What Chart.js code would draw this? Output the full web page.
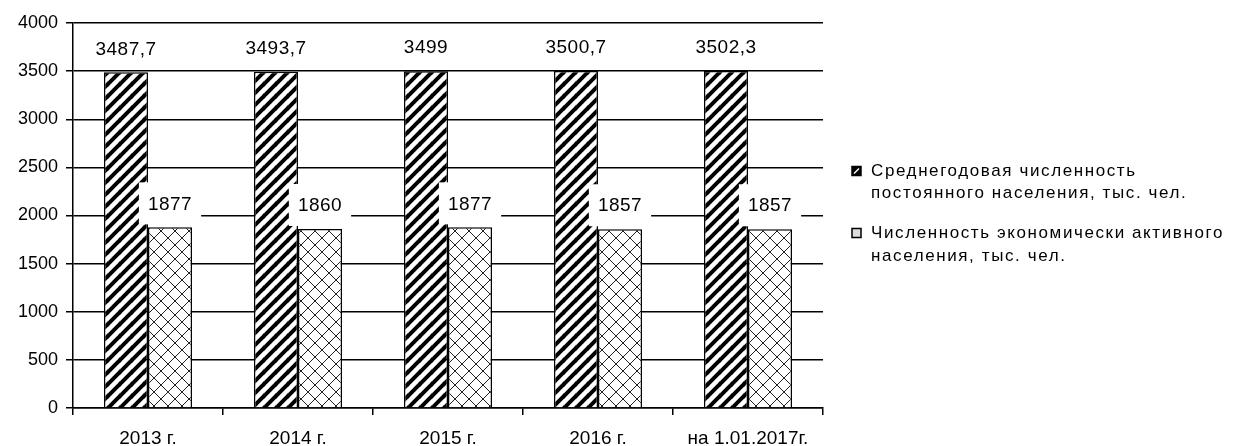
<!DOCTYPE html>
<html>
<head>
<meta charset="utf-8">
<script src="https://cdn.jsdelivr.net/npm/chart.js@4/dist/chart.umd.min.js"></script>
<style>
  body { margin: 0; background: #fff; }
  canvas { display: block; }
</style>
</head>
<body>
<canvas id="popChart" width="1243" height="446"></canvas>
<script>
const years = ["2013 г.", "2014 г.", "2015 г.", "2016 г.", "на 1.01.2017г."];
const avgPopulation = [3487.7, 3493.7, 3499, 3500.7, 3502.3];
const activePopulation = [1877, 1860, 1877, 1857, 1857];
const yTicks = [0, 500, 1000, 1500, 2000, 2500, 3000, 3500, 4000];
const legendLines = [
  ["Среднегодовая численность", "постоянного населения, тыс. чел."],
  ["Численность экономически активного", "населения, тыс. чел."]
];

const FONT = "'Liberation Sans', Arial, sans-serif";

function makeHatch() {
  const c = document.createElement("canvas");
  c.width = 12; c.height = 12;
  const g = c.getContext("2d");
  g.fillStyle = "#fff";
  g.fillRect(0, 0, 12, 12);
  g.strokeStyle = "#000";
  g.lineWidth = 4;
  [-12, 0, 12].forEach(function (o) {
    g.beginPath();
    g.moveTo(o, 12);
    g.lineTo(o + 12, 0);
    g.stroke();
  });
  g.beginPath(); g.moveTo(-6, 6); g.lineTo(6, -6); g.stroke();
  g.beginPath(); g.moveTo(6, 18); g.lineTo(18, 6); g.stroke();
  return g.createPattern(c, "repeat");
}

function makeCross() {
  const c = document.createElement("canvas");
  c.width = 14; c.height = 14;
  const g = c.getContext("2d");
  g.fillStyle = "#fff";
  g.fillRect(0, 0, 14, 14);
  g.strokeStyle = "#222";
  g.lineWidth = 1;
  g.beginPath(); g.moveTo(0, 0); g.lineTo(14, 14); g.stroke();
  g.beginPath(); g.moveTo(0, 14); g.lineTo(14, 0); g.stroke();
  return g.createPattern(c, "repeat");
}

const fmt = function (v) { return String(v).replace(".", ","); };

// value labels sit in white boxes just above each bar
const barLabels = {
  id: "barLabels",
  afterDatasetsDraw(chart) {
    const ctx = chart.ctx;
    ctx.save();
    ctx.font = "19px " + FONT;
    ctx.letterSpacing = "0.5px";
    ctx.textAlign = "center";
    ctx.textBaseline = "middle";
    chart.data.datasets.forEach(function (ds, i) {
      chart.getDatasetMeta(i).data.forEach(function (bar, j) {
        const txt = fmt(ds.data[j]);
        const w = ctx.measureText(txt).width + 18;
        const h = 42;
        const bottom = bar.y - 3;
        ctx.fillStyle = "#fff";
        ctx.fillRect(bar.x - w / 2, bottom - h, w, h);
        ctx.fillStyle = "#000";
        ctx.fillText(txt, bar.x, bottom - h / 2 + 1);
      });
    });
    ctx.restore();
  }
};

const sideLegend = {
  id: "sideLegend",
  afterDraw(chart) {
    const ctx = chart.ctx;
    ctx.save();
    ctx.font = "17px " + FONT;
    ctx.letterSpacing = "1.6px";
    ctx.textBaseline = "middle";
    const rows = [[171, 193], [233, 256]];
    rows.forEach(function (r, i) {
      const mx = 852, my = r[0] - 4.5;
      if (i === 0) {
        ctx.fillStyle = "#000";
        ctx.fillRect(mx, my, 9, 9);
        ctx.strokeStyle = "#fff";
        ctx.lineWidth = 1.5;
        ctx.beginPath(); ctx.moveTo(mx + 2, my + 7); ctx.lineTo(mx + 7, my + 2); ctx.stroke();
      } else {
        ctx.fillStyle = "#ddd";
        ctx.fillRect(mx, my, 9, 9);
      }
      ctx.strokeStyle = "#000";
      ctx.lineWidth = 1.5;
      ctx.strokeRect(mx, my, 9, 9);
      ctx.fillStyle = "#000";
      ctx.fillText(legendLines[i][0], 871, r[0]);
      ctx.fillText(legendLines[i][1], 871, r[1]);
    });
    ctx.restore();
  }
};

const ctx = document.getElementById("popChart").getContext("2d");
new Chart(ctx, {
  type: "bar",
  data: {
    labels: years,
    datasets: [{
      label: legendLines[0].join(" "),
      data: avgPopulation,
      backgroundColor: makeHatch(),
      borderColor: "#000",
      borderWidth: 1.5,
      categoryPercentage: 0.587,
      barPercentage: 1
    }, {
      label: legendLines[1].join(" "),
      data: activePopulation,
      backgroundColor: makeCross(),
      borderColor: "#000",
      borderWidth: 1.5,
      categoryPercentage: 0.587,
      barPercentage: 1
    }]
  },
  options: {
    responsive: false,
    animation: false,
    layout: { padding: { top: 23, right: 420, bottom: 0, left: 0 } },
    plugins: {
      legend: { display: false },
      tooltip: { enabled: false }
    },
    scales: {
      x: {
        offset: true,
        grid: {
          offset: true,
          drawOnChartArea: false,
          drawTicks: true,
          tickLength: 7,
          color: "#000",
          lineWidth: 1.5
        },
        border: { color: "#000", width: 1.5 },
        ticks: {
          color: "#000",
          font: { family: FONT, size: 19 },
          padding: 12,
          maxRotation: 0
        },
        afterFit(scale) { scale.height = 38; }
      },
      y: {
        min: yTicks[0],
        max: yTicks[yTicks.length - 1],
        afterBuildTicks(scale) {
          scale.ticks = yTicks.map(function (v) { return { value: v }; });
        },
        grid: {
          color: "#000",
          lineWidth: 1.5,
          drawTicks: true,
          tickLength: 7
        },
        border: { color: "#000", width: 1.5 },
        ticks: {
          color: "#000",
          font: { family: FONT, size: 18 },
          padding: 8,
          callback: function (v) { return String(v); }
        },
        afterFit(scale) { scale.width = 73; }
      }
    }
  },
  plugins: [barLabels, sideLegend]
});
</script>
</body>
</html>
